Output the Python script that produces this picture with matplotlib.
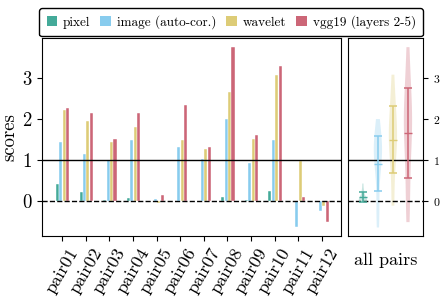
import numpy as np
import matplotlib
matplotlib.use("Agg")
import matplotlib.pyplot as plt
from matplotlib.patches import Patch

plt.rcParams['font.family'] = ['cmr10', 'DejaVu Serif']
plt.rcParams['mathtext.fontset'] = 'cm'
plt.rcParams['axes.formatter.use_mathtext'] = True

pairs = ["pair01", "pair02", "pair03", "pair04", "pair05", "pair06",
         "pair07", "pair08", "pair09", "pair10", "pair11", "pair12"]
series_names = ["pixel", "image (auto-cor.)", "wavelet", "vgg19 (layers 2-5)"]
colors = ["#44AA99", "#88CCEE", "#DDCC77", "#CC6677"]

pixel = [0.43, 0.22, 0.02, 0.07, 0.01, 0.01, 0.01, 0.11, 0.04, 0.25, 0.00, 0.00]
image = [1.44, 1.15, 1.00, 1.49, 0.05, 1.33, 1.02, 2.00, 0.94, 1.49, -0.64, -0.24]
wavelet = [2.21, 1.94, 1.44, 1.80, -0.05, 1.49, 1.28, 2.67, 1.51, 3.08, 0.97, -0.11]
vgg = [2.28, 2.14, 1.52, 2.14, 0.15, 2.33, 1.31, 3.75, 1.61, 3.28, 0.09, -0.51]
series = [pixel, image, wavelet, vgg]

# summary over all pairs
summary_mean = [0.10, 0.91, 1.50, 1.66]
summary_err = [0.12, 0.67, 0.82, 1.09]

fig = plt.figure(figsize=(4.42, 3.0), dpi=100)
ax = fig.add_axes([0.095, 0.213, 0.676, 0.66])
ax2 = fig.add_axes([0.787, 0.213, 0.170, 0.66])

x = np.arange(len(pairs))
w = 0.145
for i, (vals, c) in enumerate(zip(series, colors)):
    ax.bar(x + (i - 1.4) * w, vals, width=w * 0.9, color=c,
           edgecolor='white', linewidth=0.3)

ylim = (-0.85, 3.97)
for a in (ax, ax2):
    a.axhline(1, color='black', lw=1.0)
    a.axhline(0, color='black', lw=1.0, ls='--')
    a.set_ylim(*ylim)
    a.set_yticks([0, 1, 2, 3])

ax.set_xlim(-0.86, 11.8)
ax.set_xticks(x)
ax.set_xticklabels(pairs, rotation=60, fontsize=13)
ax.tick_params(axis='y', labelsize=13.5)
ax.set_ylabel("scores", fontsize=13.5, labelpad=2)

# right panel: distributions over all pairs
for i, (vals, c) in enumerate(zip(series, colors)):
    vp = ax2.violinplot([vals], positions=[i], widths=0.55, showextrema=False)
    for b in vp['bodies']:
        b.set_facecolor(c)
        b.set_edgecolor('none')
        b.set_alpha(0.3)
    ax2.errorbar([i], [summary_mean[i]], yerr=[summary_err[i]], fmt='_', color=c,
                 ecolor=c, capsize=2.8, elinewidth=1.1, capthick=1.1, markersize=6)

ax2.set_xlim(-1, 4)
ax2.set_xticks([])
ax2.set_xlabel("all pairs", fontsize=13, labelpad=12)
ax2.yaxis.tick_right()
ax2.tick_params(axis='y', labelsize=8.5)

handles = [Patch(facecolor=c, edgecolor='none') for c in colors]
fig.legend(handles, series_names, loc='upper center', bbox_to_anchor=(0.523, 0.982),
           ncol=4, fontsize=9.5, frameon=True, fancybox=True, edgecolor='black',
           framealpha=1, handlelength=0.8, handleheight=0.75, handletextpad=0.45,
           columnspacing=0.75, borderpad=0.55, borderaxespad=0.2)

fig.savefig("out.png", dpi=100)
